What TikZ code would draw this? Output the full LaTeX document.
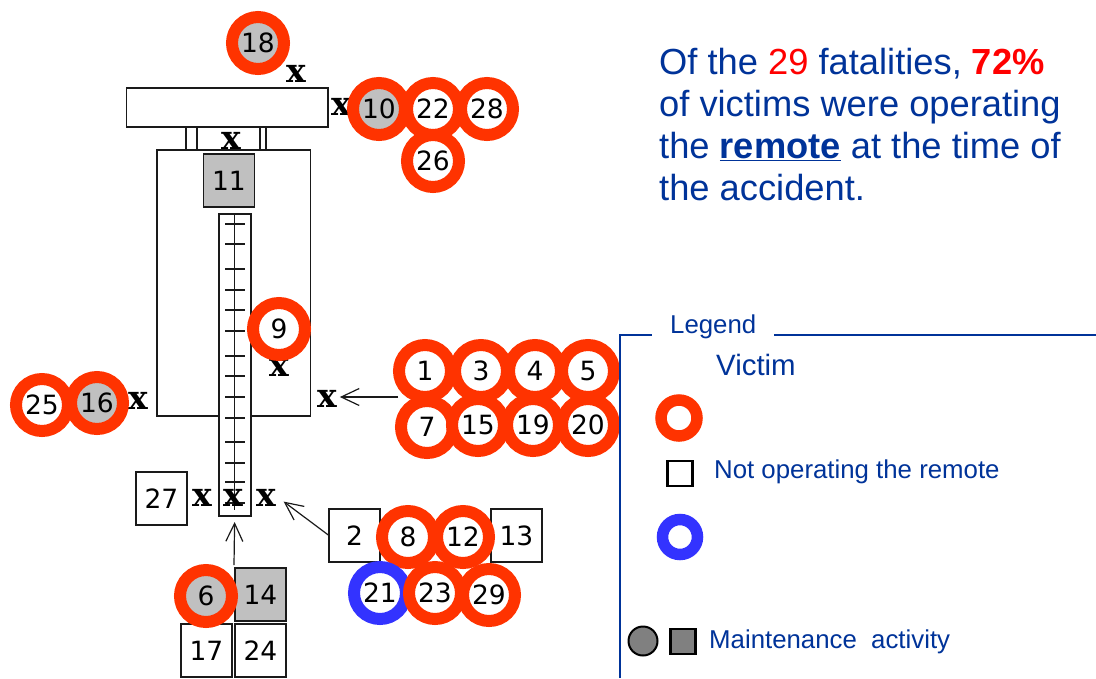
\documentclass[tikz,border=0pt]{standalone}
\usepackage{xcolor}
\usepackage{fontspec}
\setmainfont{Liberation Sans}
\newfontfamily\digfont{DejaVu Sans}
\newfontfamily\crossfont{DejaVu Serif}
\usepackage{tikz}
\usetikzlibrary{arrows.meta,positioning}
\definecolor{ink}{HTML}{1A1A1A}
\definecolor{navy}{HTML}{003399}
\definecolor{ringred}{HTML}{FF3300}
\definecolor{ringblue}{HTML}{3333FF}
\definecolor{maint}{HTML}{C0C0C0}
\definecolor{legmaint}{HTML}{808080}
\tikzset{
  vicring/.style={circle,draw=ringred,line width=12pt,fill=white,text=black,
    minimum size=52pt,inner sep=0pt,outer sep=0pt,font=\digfont\fontsize{26.5}{26}\selectfont},
  opring/.style={vicring,draw=ringblue},
  numbox/.style={rectangle,draw=ink,line width=1.6pt,fill=white,text=black,
    minimum width=51pt,minimum height=53pt,inner sep=0pt,outer sep=0pt,
    font=\digfont\fontsize{26.5}{26}\selectfont},
  xmark/.style={inner sep=0pt,outer sep=3pt,text=black,font=\crossfont\bfseries\fontsize{33}{33}\selectfont},
  partbox/.style={draw=ink,line width=1.6pt,fill=white},
  hitarr/.style={-{Straight Barb[length=18pt,width=17pt]},line width=1.2pt,color=ink},
  legtxt/.style={anchor=base west,inner sep=0pt,text=navy,font=\fontsize{25.8}{30}\selectfont},
  legline/.style={draw=navy,line width=1.8pt},
}
\begin{document}
\begin{tikzpicture}[x=1pt,y=-1pt,node distance=54pt,on grid]
  \useasboundingbox (0,0) rectangle (1096,678);

  % machine
  \draw[partbox] (186,127) rectangle (197,150);
  \draw[partbox] (260,127) rectangle (266,150);
  \draw[partbox] (126.5,88) rectangle (328,127);
  \draw[partbox] (157,150) rectangle (310.5,416);
  \node[numbox,fill=white,minimum width=32pt,minimum height=302pt] (mast) at (234.7,365) {};
  \draw[ink,line width=1.3pt] (mast.north) -- (234.7,510);
  \foreach \ty in {224,244,269,290,310,331,356,376,397,418,442,463,482,503}
    \draw[ink,line width=1.3pt] (225,\ty) -- (245,\ty);
  \node[numbox,fill=maint] (n11) at (229,180.5) {11};

  \node[xmark] (xa) at (296,74) {x};
  \node[xmark] (xb) at (341,107) {x};
  \node[xmark] (xc) at (231,141) {x};
  \node[xmark] (xd) at (279,368) {x};
  \node[xmark] (xe) at (327,399) {x};
  \node[xmark] (xf) at (138,401) {x};
  \node[xmark] (xg) at (202,498) {x};
  \node[xmark] (xh) at (233,498) {x};
  \node[xmark] (xi) at (266,498) {x};

  % victims
  \node[vicring,fill=maint] (r18) at (258,43) {18};
  \node[vicring,fill=maint] (r10) at (379,109) {10};
  \node[vicring,right=of r10] (r22) {22};
  \node[vicring,right=of r22] (r28) {28};
  \node[vicring] (r26) at (433,161) {26};
  \node[vicring] (r9) at (279,329) {9};

  \node[vicring] (r1) at (425,371) {1};
  \node[vicring,right=56pt of r1] (r3) {3};
  \node[vicring,right=of r3] (r4) {4};
  \node[vicring,right=53pt of r4] (r5) {5};
  \node[vicring] (r7) at (427,427) {7};
  \node[vicring] (r15) at (478,425) {15};
  \node[vicring,right=55pt of r15] (r19) {19};
  \node[vicring,right=55pt of r19] (r20) {20};

  \node[vicring] (r25) at (42,405) {25};
  \node[vicring,fill=maint] (r16) at (97,403) {16};

  \node[numbox] (n27) at (161.5,498.5) {27};
  \node[numbox] (n2) at (354.5,535.5) {2};
  \node[numbox] (n13) at (516.5,535.5) {13};
  \node[numbox,fill=maint] (n14) at (260.5,594.5) {14};
  \node[numbox] (n17) at (206.5,650.5) {17};
  \node[numbox] (n24) at (260.5,650.5) {24};

  \node[vicring] (r8) at (408,537) {8};
  \node[vicring,right=55pt of r8] (r12) {12};
  \node[vicring,fill=maint] (r6) at (206,596) {6};
  \node[opring] (r21) at (380,593) {21};
  \node[vicring,right=55pt of r21] (r23) {23};
  \node[vicring] (r29) at (489,595) {29};

  % arrows
  \coordinate (fromrow) at (398,397);
  \coordinate (frombase) at (234,565);
  \draw[hitarr] (fromrow) -- (xe.east |- fromrow);
  \draw[hitarr,shorten >=6pt] (n2.west) -- (xi.east);
  \draw[hitarr,shorten >=6pt] (frombase) -- (mast.south);

  % text
  \node[anchor=north west,inner sep=0pt,align=left,text=navy,
    font=\fontsize{36.3}{42}\selectfont] (msg) at (659,48)
    {Of the \textcolor{red}{29} fatalities, \textcolor{red}{\textbf{72\%}}\\
     of victims were operating\\
     the \underline{\textbf{remote}} at the time of\\
     the accident.};

  % legend
  \draw[legline] (620,678) -- (620,335) -- (652,335);
  \draw[legline] (774,335) -- (1096,335);
  \node[legtxt] (lgt) at (670,333) {Legend};
  \node[legtxt,font=\fontsize{29.4}{30}\selectfont] (lgv) at (716,375) {Victim};
  \node[circle,draw=ringred,line width=11.5pt,fill=white,minimum size=36pt,inner sep=0pt] (lgr) at (679,418) {};
  \node[rectangle,draw=black,line width=2.5pt,fill=white,minimum size=25pt,inner sep=0pt] (lgs) at (680,473.5) {};
  \node[legtxt] (lgn) at (714,478) {Not operating the remote};
  \node[circle,draw=ringblue,line width=11.5pt,fill=white,minimum size=35pt,inner sep=0pt] (lgb) at (680,537) {};
  \node[circle,draw=black,line width=2pt,fill=legmaint,minimum size=29pt,inner sep=0pt] (lgc) at (643,641) {};
  \node[rectangle,draw=black,line width=2.5pt,fill=legmaint,minimum size=25pt,inner sep=0pt] (lgq) at (683,641.5) {};
  \node[legtxt] (lgm) at (709,648) {Maintenance\ \ activity};
\end{tikzpicture}
\end{document}
